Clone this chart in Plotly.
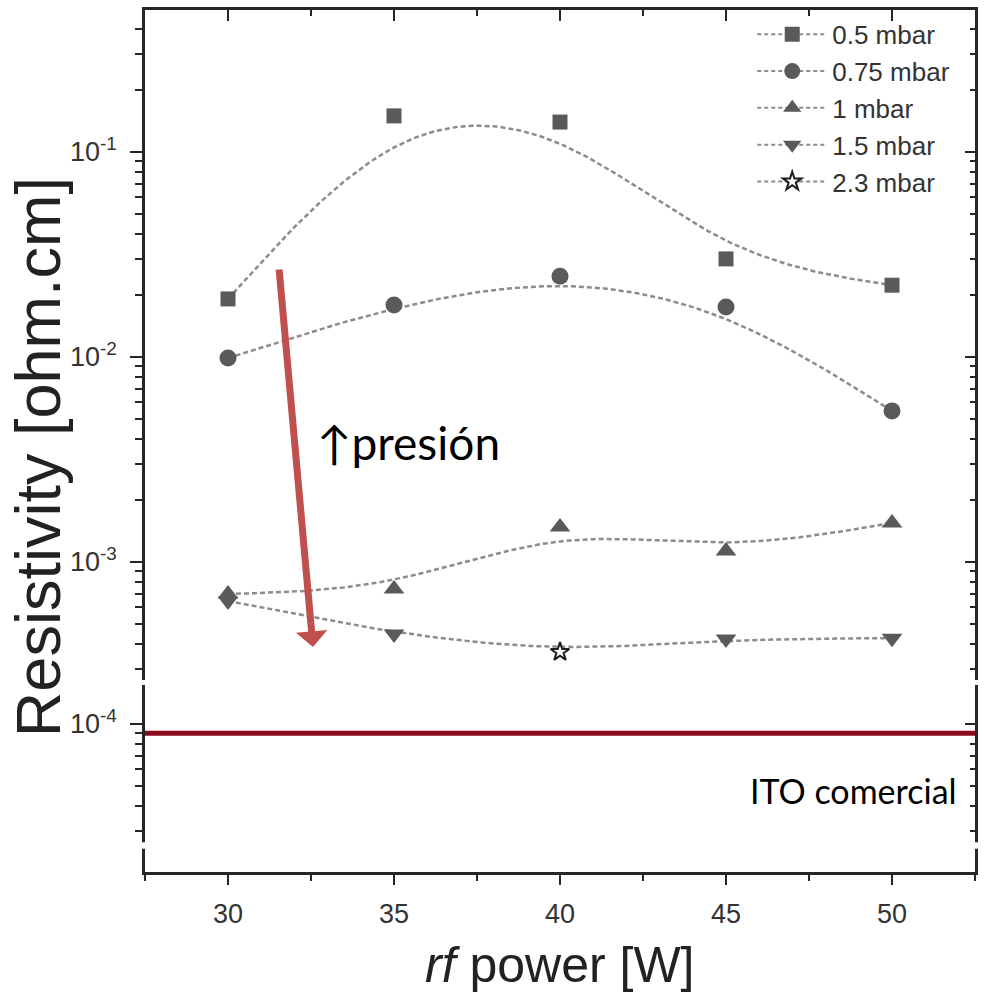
import numpy as np
import plotly.graph_objects as go

# ---------------- data ----------------
power = [30, 35, 40, 45, 50]
rho_05 = [0.0192, 0.150, 0.140, 0.0301, 0.0224]
rho_075 = [0.00989, 0.01795, 0.0248, 0.01754, 0.00546]
rho_1 = [6.98e-4, 7.38e-4, 1.48e-3, 1.13e-3, 1.55e-3]
rho_15 = [6.45e-4, 4.45e-4, None, 4.21e-4, 4.25e-4]
power_23 = [40]
rho_23 = [3.64e-4]
ito_rho = 9.0e-5
series_labels = ["0.5 mbar", "0.75 mbar", "1 mbar", "1.5 mbar", "2.3 mbar"]
xtick_vals = [30, 35, 40, 45, 50]
ytick_vals = [1e-4, 1e-3, 1e-2, 1e-1]
ytick_text = ["10<sup>-4</sup>", "10<sup>-3</sup>", "10<sup>-2</sup>", "10<sup>-1</sup>"]

# ---------------- style ----------------
AX = "#262626"
MK = "#5a5a5a"
CURVE = "#8c8c8c"
FONT = "Liberation Sans, Arial, sans-serif"
NOTE_FONT = "Lato, Open Sans, sans-serif"


def bspline(xs, ys, n=40):
    """Uniform cubic B-spline (ends clamped) in log space, like Origin's B-spline connect."""
    lx = [xs[0]] * 2 + list(xs) + [xs[-1]] * 2
    ly = np.log10(ys)
    ly = [ly[0]] * 2 + list(ly) + [ly[-1]] * 2
    t = np.linspace(0, 1, n)
    b0 = (1 - t) ** 3 / 6
    b1 = (3 * t ** 3 - 6 * t ** 2 + 4) / 6
    b2 = (-3 * t ** 3 + 3 * t ** 2 + 3 * t + 1) / 6
    b3 = t ** 3 / 6
    ox, oy = [], []
    for i in range(len(lx) - 3):
        ox.extend(b0 * lx[i] + b1 * lx[i + 1] + b2 * lx[i + 2] + b3 * lx[i + 3])
        oy.extend(b0 * ly[i] + b1 * ly[i + 1] + b2 * ly[i + 2] + b3 * ly[i + 3])
    return ox, list(10 ** np.array(oy))


fig = go.Figure()

symbols = ["square", "circle", "triangle-up", "triangle-down", "star"]
sizes = [15, 17, 18, 18, 14]

# legend entries (line + marker sample)
for lab, sym, sz in zip(series_labels, symbols, sizes):
    if sym == "star":
        mk = dict(symbol=sym, size=sz, color="white", line=dict(color="#1e1e1e", width=2))
    else:
        mk = dict(symbol=sym, size=sz, color=MK, line=dict(width=0))
    fig.add_trace(go.Scatter(x=[None], y=[None], mode="lines+markers", name=lab,
                             line=dict(color=CURVE, width=2, dash="4px,3px"), marker=mk,
                             xaxis="x", yaxis="y"))

# smoothed connecting curves
rho_15_curve = [v if v is not None else rho_23[0] for v in rho_15]
for ys in [rho_05, rho_075, rho_1, rho_15_curve]:
    cx, cy = bspline(power, ys)
    fig.add_trace(go.Scatter(x=cx, y=cy, mode="lines", showlegend=False, hoverinfo="skip",
                             line=dict(color=CURVE, width=2.5, dash="5px,3px"),
                             xaxis="x", yaxis="y"))

# markers
for ys, sym, sz in zip([rho_05, rho_075, rho_1, rho_15], symbols[:4], sizes[:4]):
    fig.add_trace(go.Scatter(x=power, y=ys, mode="markers", showlegend=False,
                             marker=dict(symbol=sym, size=sz, color=MK, line=dict(width=0)),
                             xaxis="x", yaxis="y"))
fig.add_trace(go.Scatter(x=power_23, y=rho_23, mode="markers", showlegend=False,
                         marker=dict(symbol="star", size=14, color="white",
                                     line=dict(color="#1e1e1e", width=2)),
                         xaxis="x", yaxis="y"))

# helper traces to create the other axes
for xa, ya in [("x", "y3"), ("x2", "y2"), ("x2", "y4")]:
    fig.add_trace(go.Scatter(x=[None], y=[None], mode="markers", showlegend=False,
                             hoverinfo="skip", xaxis=xa, yaxis=ya))

# ---------------- axes geometry ----------------
XR = [27.5, 52.5]
UP_RANGE = [-3.5756, -0.3073]
LO_RANGE = [-4.722, -3.8098]
UP_DOM = [0.22274, 1.0]
LO_DOM = [0.0, 0.21694]

minor_up = [m * 10.0 ** k for k in range(-4, 0) for m in range(2, 10)
            if UP_RANGE[0] <= np.log10(m * 10.0 ** k) <= UP_RANGE[1]]
minor_lo = [m * 1e-5 for m in range(3, 10)]
minor_x = [27.5, 32.5, 37.5, 42.5, 47.5, 52.5]

common_axis = dict(showline=True, linecolor=AX, linewidth=2.5, tickcolor=AX, tickwidth=2,
                   showgrid=False, zeroline=False)

fig.update_layout(
    width=984, height=999,
    margin=dict(l=145, r=9, t=10, b=127),
    plot_bgcolor="white", paper_bgcolor="white",
    font=dict(family=FONT, color="#333333"),
    xaxis=dict(domain=[0, 1], range=XR, anchor="y", side="top", ticks="inside", ticklen=11,
               tickvals=xtick_vals, showticklabels=False,
               minor=dict(ticks="inside", ticklen=6, tickvals=minor_x, tickcolor=AX, tickwidth=2),
               **common_axis),
    xaxis2=dict(domain=[0, 1], range=XR, anchor="y2", side="bottom", ticks="outside", ticklen=10,
                tickvals=xtick_vals, ticktext=[str(v) for v in xtick_vals],
                tickfont=dict(size=27, color="#333333"), ticklabelstandoff=6,
                minor=dict(ticks="outside", ticklen=6, tickvals=minor_x, tickcolor=AX, tickwidth=2),
                **common_axis),
    yaxis=dict(domain=UP_DOM, type="log", range=UP_RANGE, anchor="x", side="left",
               ticks="outside", ticklen=12, tickvals=ytick_vals, ticktext=ytick_text,
               tickfont=dict(size=27, color="#333333"), ticklabelstandoff=8,
               minor=dict(ticks="outside", ticklen=7, tickvals=minor_up, tickcolor=AX, tickwidth=2),
               **common_axis),
    yaxis3=dict(overlaying="y", type="log", range=UP_RANGE, anchor="x", side="right",
                ticks="inside", ticklen=10, tickvals=ytick_vals, showticklabels=False,
                minor=dict(ticks="inside", ticklen=5, tickvals=minor_up, tickcolor=AX, tickwidth=2),
                **common_axis),
    yaxis2=dict(domain=LO_DOM, type="log", range=LO_RANGE, anchor="x2", side="left",
                ticks="outside", ticklen=12, tickvals=ytick_vals, ticktext=ytick_text,
                tickfont=dict(size=27, color="#333333"), ticklabelstandoff=8,
                minor=dict(ticks="outside", ticklen=7, tickvals=minor_lo, tickcolor=AX, tickwidth=2),
                **common_axis),
    yaxis4=dict(overlaying="y2", type="log", range=LO_RANGE, anchor="x2", side="right",
                ticks="inside", ticklen=10, tickvals=ytick_vals, showticklabels=False,
                minor=dict(ticks="inside", ticklen=5, tickvals=minor_lo, tickcolor=AX, tickwidth=2),
                **common_axis),
    legend=dict(x=0.7316, xanchor="left", y=0.999, yanchor="top", bgcolor="rgba(0,0,0,0)",
                font=dict(size=26, color="#333333", family=FONT), itemwidth=70,
                tracegroupgap=0),
    showlegend=True,
)

# ITO commercial reference line (shape y on log axis given in data units)
fig.add_shape(type="line", xref="x2 domain", x0=0, x1=1, yref="y2",
              y0=ito_rho, y1=ito_rho,
              line=dict(color="#8b0a1e", width=5), layer="above")

# axis break in lower segment
for xc in [0.0, 1.0]:
    fig.add_shape(type="rect", xref="paper", yref="paper", x0=xc - 0.012, x1=xc + 0.012,
                  y0=0.0270, y1=0.0345, fillcolor="white", line=dict(width=0), layer="above")

# red arrow (pressure trend)
fig.add_annotation(x=32.56, y=np.log10(3.85e-4), xref="x", yref="y", ax=-34, ay=-379,
                   axref="pixel", ayref="pixel", text="", showarrow=True,
                   arrowhead=1, arrowsize=0.75, arrowwidth=7, arrowcolor="#c0504d")
fig.add_annotation(x=0.2048, y=0.4977, xref="paper", yref="paper", xanchor="left",
                   yanchor="middle", text="↑presión", showarrow=False,
                   font=dict(family=NOTE_FONT, size=46, color="black"))
fig.add_annotation(x=0.7265, y=0.0951, xref="paper", yref="paper", xanchor="left",
                   yanchor="middle", text="ITO comercial", showarrow=False,
                   font=dict(family=NOTE_FONT, size=34, color="black"))

# axis titles
fig.add_annotation(x=-0.128, y=0.481, xref="paper", yref="paper", text="Resistivity [ohm.cm]",
                   textangle=-90, showarrow=False, xanchor="center", yanchor="middle",
                   font=dict(family=FONT, size=63, color="#222222"))
fig.add_annotation(x=0.5, y=-0.108, xref="paper", yref="paper", text="<i>rf</i> power [W]",
                   showarrow=False, xanchor="center", yanchor="middle",
                   font=dict(family=FONT, size=50, color="#222222"))

fig.write_html("out.html")
